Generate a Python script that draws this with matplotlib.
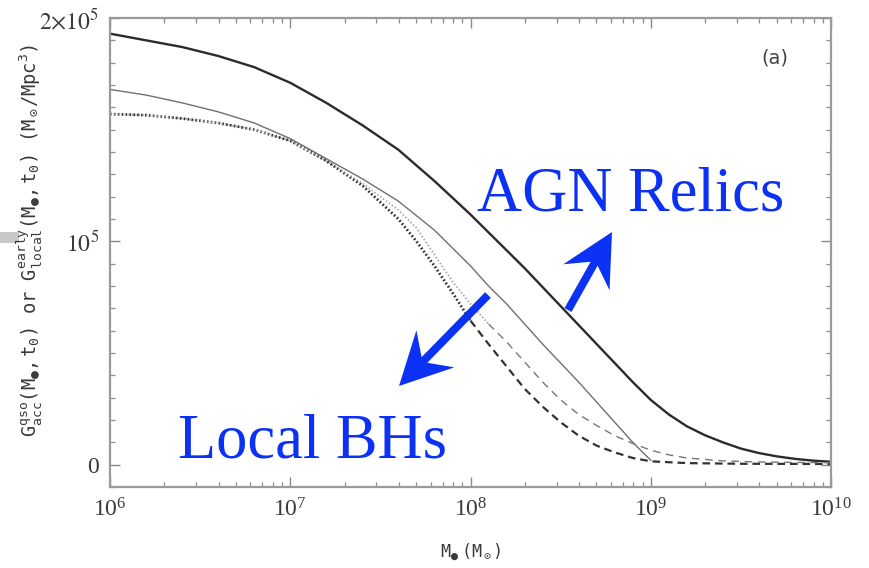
import matplotlib
matplotlib.use("Agg")
import matplotlib.pyplot as plt
from matplotlib.patches import FancyArrow, Rectangle
from matplotlib.ticker import LogLocator, MultipleLocator, NullFormatter
import numpy as np

# log10 of black hole mass, and mass density G in Msun/Mpc^3
logm_relics = [6.0, 6.2, 6.4, 6.6, 6.8, 7.0, 7.2, 7.4, 7.6, 7.8, 8.0, 8.1,
               8.2, 8.3, 8.4, 8.5, 8.6, 8.7, 8.8, 8.9, 9.0, 9.1, 9.2, 9.3,
               9.4, 9.5, 9.6, 9.7, 9.8, 9.9, 10.0]
g_relics = [1.93e5, 1.90e5, 1.87e5, 1.83e5, 1.78e5, 1.71e5, 1.62e5, 1.52e5,
            1.41e5, 1.27e5, 1.12e5, 1.04e5, 0.96e5, 0.88e5, 0.795e5, 0.71e5,
            0.625e5, 0.54e5, 0.455e5, 0.37e5, 0.29e5, 0.225e5, 0.172e5,
            0.132e5, 0.10e5, 0.072e5, 0.052e5, 0.037e5, 0.026e5, 0.018e5,
            0.013e5]

logm_local = [6.0, 6.2, 6.4, 6.6, 6.8, 7.0, 7.2, 7.4, 7.6, 7.8, 7.9, 8.0,
              8.1, 8.2, 8.3, 8.4, 8.5, 8.6, 8.7, 8.8, 8.9, 9.0]
g_local = [1.68e5, 1.655e5, 1.62e5, 1.58e5, 1.53e5, 1.46e5, 1.37e5, 1.28e5,
           1.18e5, 1.05e5, 0.97e5, 0.89e5, 0.80e5, 0.72e5, 0.63e5, 0.54e5,
           0.455e5, 0.37e5, 0.28e5, 0.19e5, 0.10e5, 0.02e5]

# early-type local density: dotted at low mass, dashed at high mass
logm_early_a_lo = [6.0, 6.2, 6.4, 6.6, 6.8, 7.0, 7.2, 7.4, 7.6, 7.7, 7.8,
                   7.9, 8.0]
g_early_a_lo = [1.57e5, 1.565e5, 1.55e5, 1.53e5, 1.50e5, 1.45e5, 1.36e5,
                1.25e5, 1.10e5, 1.00e5, 0.89e5, 0.77e5, 0.645e5]
logm_early_a_hi = [8.0, 8.1, 8.2, 8.3, 8.4, 8.5, 8.6, 8.7, 8.8, 8.9, 9.0,
                   9.2, 9.5, 10.0]
g_early_a_hi = [0.645e5, 0.54e5, 0.44e5, 0.34e5, 0.26e5, 0.19e5, 0.13e5,
                0.085e5, 0.055e5, 0.03e5, 0.015e5, 0.007e5, 0.004e5, 0.003e5]

logm_early_b_lo = [6.0, 6.2, 6.4, 6.6, 6.8, 7.0, 7.2, 7.4, 7.6, 7.7, 7.8,
                   7.9, 8.0, 8.1]
g_early_b_lo = [1.57e5, 1.565e5, 1.55e5, 1.53e5, 1.50e5, 1.45e5, 1.36e5,
                1.26e5, 1.14e5, 1.06e5, 0.94e5, 0.82e5, 0.72e5, 0.63e5]
logm_early_b_hi = [8.1, 8.2, 8.3, 8.4, 8.5, 8.6, 8.7, 8.8, 8.9, 9.0, 9.1,
                   9.2, 9.4, 9.6, 9.8, 10.0]
g_early_b_hi = [0.63e5, 0.55e5, 0.46e5, 0.37e5, 0.29e5, 0.225e5, 0.175e5,
                0.13e5, 0.095e5, 0.065e5, 0.044e5, 0.03e5, 0.017e5, 0.012e5,
                0.01e5, 0.009e5]

ytick_vals = [0, 1e5, 2e5]
ytick_labels = ['0', r'$10^5$', r'$2{\times}10^5$']

plt.rcParams['font.family'] = ['Liberation Serif', 'DejaVu Serif']
plt.rcParams['mathtext.fontset'] = 'stix'
plt.rcParams['mathtext.rm'] = 'DejaVu Sans Mono'
plt.rcParams['mathtext.it'] = 'DejaVu Sans Mono'
plt.rcParams['mathtext.bf'] = 'DejaVu Sans Mono:bold'
plt.rcParams['lines.scale_dashes'] = False

fig = plt.figure(figsize=(8.69, 5.68), dpi=100)
ax = fig.add_axes([110 / 869, 1 - 487 / 568, 721 / 869, 469 / 568])

m = lambda lg: 10 ** np.asarray(lg)
ax.plot(m(logm_relics), g_relics, color='#2b2b2b', lw=1.7)
ax.plot(m(logm_local), g_local, color='#707070', lw=1.0)
ax.plot(m(logm_early_a_lo), g_early_a_lo, color='#303030', lw=2.0,
        dashes=(1.2, 1.6))
ax.plot(m(logm_early_b_lo), g_early_b_lo, color='#a0a0a0', lw=1.3,
        dashes=(1.0, 1.6))
ax.plot(m(logm_early_a_hi), g_early_a_hi, color='#333333', lw=1.6,
        dashes=(5.5, 3.5))
ax.plot(m(logm_early_b_hi), g_early_b_hi, color='#777777', lw=1.0,
        dashes=(5.5, 4.0))

ax.set_xscale('log')
ax.set_xlim(1e6, 1e10)
ax.set_ylim(-1e4, 2e5)
ax.xaxis.set_major_locator(LogLocator(base=10, numticks=10))
ax.xaxis.set_minor_locator(LogLocator(base=10, subs=np.arange(2, 10), numticks=20))
ax.xaxis.set_minor_formatter(NullFormatter())
ax.set_yticks(ytick_vals, labels=ytick_labels)
ax.yaxis.set_minor_locator(MultipleLocator(1e4))

for s in ax.spines.values():
    s.set_color('#9a9a9a')
    s.set_linewidth(1.6)
ax.tick_params(which='both', direction='in', top=True, right=True,
               color='#8a8a8a', labelcolor='#3a3a3a', labelsize=17, pad=8)
ax.tick_params(which='major', length=7, width=1.0)
ax.tick_params(which='minor', length=3.5, width=0.9)

dot = '\u25CF'
ax.set_xlabel(r'$\mathrm{M}_{' + dot + r'}$ $(\mathrm{M}_\odot)$', fontsize=12,
              color='#3a3a3a', labelpad=14, math_fontfamily='custom')
fig.text(30 / 869, 1 - 240 / 568,
         r'$\mathrm{G}^{\rm qso}_{\rm acc}(\mathrm{M}_{' + dot + r'},\mathrm{t}_0)$ or '
         r'$\mathrm{G}^{\rm early}_{\rm local}(\mathrm{M}_{' + dot + r'},\mathrm{t}_0)$ '
         r'$(\mathrm{M}_\odot/\mathrm{Mpc}^3)$',
         rotation=90, ha='center', va='center', fontsize=13.5, color='#3a3a3a',
         family='DejaVu Sans Mono', math_fontfamily='custom')
ax.text(0.922, 0.915, '(a)', transform=ax.transAxes, ha='center', va='center',
        fontsize=14, color='#444444', family='DejaVu Sans')

blue = '#0b31f5'
ax.text(0.509, 0.5885, 'AGN Relics', transform=ax.transAxes, color=blue,
        fontsize=45, va='baseline', ha='left')
ax.text(0.094, 0.062, 'Local BHs', transform=ax.transAxes, color=blue,
        fontsize=45, va='baseline', ha='left')

# arrows drawn in inch units so the heads keep their shape
for tail, tip in [((5.68, 2.58), (6.12, 3.36)), ((4.88, 2.73), (3.99, 1.82))]:
    fig.patches.append(FancyArrow(tail[0], tail[1], tip[0] - tail[0], tip[1] - tail[1],
                                  width=0.08, head_width=0.53, head_length=0.52,
                                  overhang=0.3, length_includes_head=True,
                                  color=blue, lw=0, transform=fig.dpi_scale_trans))

fig.patches.append(Rectangle((0, 1 - 243 / 568), 19 / 869, 11 / 568,
                             color='#c8c8c8', lw=0, transform=fig.transFigure))

fig.savefig('out.png', dpi=100)
